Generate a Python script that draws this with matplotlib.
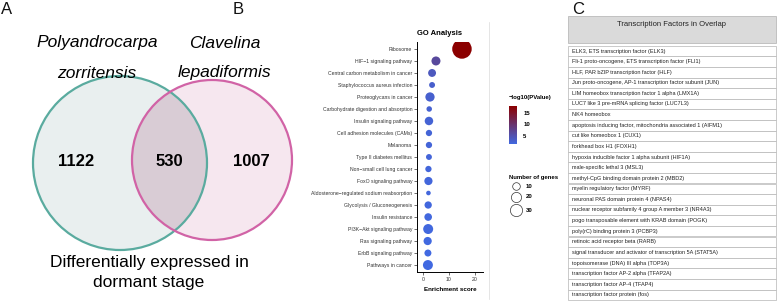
import matplotlib
matplotlib.use('Agg')
import matplotlib.pyplot as plt
import numpy as np
from matplotlib.patches import Circle, Rectangle
from matplotlib.colors import LinearSegmentedColormap, Normalize
from matplotlib.cm import ScalarMappable

plt.rcParams['font.family'] = ['Liberation Sans', 'DejaVu Sans']

# ---------------- data ----------------
species_left = ["Polyandrocarpa", "zorritensis"]
species_right = ["Clavelina", "lepadiformis"]
venn_counts = [1122, 530, 1007]
venn_caption = ["Differentially expressed in", "dormant stage"]

go_terms = ["Ribosome", "HIF\u22121 signaling pathway", "Central carbon metabolism in cancer",
            "Staphylococcus aureus infection", "Proteoglycans in cancer",
            "Carbohydrate digestion and absorption", "Insulin signaling pathway",
            "Cell adhesion molecules (CAMs)", "Melanoma", "Type II diabetes mellitus",
            "Non\u2212small cell lung cancer", "FoxO signaling pathway",
            "Aldosterone\u2212regulated sodium reabsorption", "Glycolysis / Gluconeogenesis",
            "Insulin resistance", "PI3K\u2212Akt signaling pathway", "Ras signaling pathway",
            "ErbB signaling pathway", "Pathways in cancer"]
go_enrichment = [15.0, 5.0, 3.5, 3.5, 2.7, 2.4, 2.3, 2.3, 2.3, 2.3, 2.1, 2.1, 2.1, 2.0, 2.0,
                 2.0, 1.8, 1.9, 1.9]
go_logp = [18.0, 6.5, 4.0, 3.0, 2.8, 2.6, 2.4, 2.2, 2.1, 2.0, 1.9, 1.9, 1.8, 1.7, 1.6, 1.6,
           1.5, 1.4, 1.4]
go_genes = [80, 15, 11, 5, 16, 4, 13, 6, 6, 5, 6, 12, 2, 9, 10, 19, 12, 8, 19]
size_legend = [10, 20, 30]
color_ticks = [5, 10, 15]

tf_title = "Transcription Factors in Overlap"
tf_names = [
    "ELK3, ETS transcription factor (ELK3)",
    "Fli-1 proto-oncogene, ETS transcription factor (FLI1)",
    "HLF, PAR bZIP transcription factor (HLF)",
    "Jun proto-oncogene, AP-1 transcription factor subunit (JUN)",
    "LIM homeobox transcription factor 1 alpha (LMX1A)",
    "LUC7 like 3 pre-mRNA splicing factor (LUC7L3)",
    "NK4 homeobox",
    "apoptosis inducing factor, mitochondria associated 1 (AIFM1)",
    "cut like homeobox 1 (CUX1)",
    "forkhead box H1 (FOXH1)",
    "hypoxia inducible factor 1 alpha subunit (HIF1A)",
    "male-specific lethal 3 (MSL3)",
    "methyl-CpG binding domain protein 2 (MBD2)",
    "myelin regulatory factor (MYRF)",
    "neuronal PAS domain protein 4 (NPAS4)",
    "nuclear receptor subfamily 4 group A member 3 (NR4A3)",
    "pogo transposable element with KRAB domain (POGK)",
    "poly(rC) binding protein 3 (PCBP3)",
    "retinoic acid receptor beta (RARB)",
    "signal transducer and activator of transcription 5A (STAT5A)",
    "topoisomerase (DNA) III alpha (TOP3A)",
    "transcription factor AP-2 alpha (TFAP2A)",
    "transcription factor AP-4 (TFAP4)",
    "transcription factor protein (fos)",
]

W, H = 778, 301
fig = plt.figure(figsize=(W / 100, H / 100), dpi=100)

# overlay axes in pixel coordinates
ax0 = fig.add_axes([0, 0, 1, 1])
ax0.set_xlim(0, W)
ax0.set_ylim(H, 0)
ax0.axis('off')

# panel letters
for lab, x in [("A", 7), ("B", 238), ("C", 578)]:
    ax0.text(x, 10, lab, fontsize=12, ha='center', va='center', color='#111111')

# ---------------- Panel A: Venn ----------------
lc, lr = (120, 163), 87
rc, rr = (212, 160), 80
left_fill = Circle(lc, lr, facecolor='#e9efef', edgecolor='none', zorder=1)
right_fill = Circle(rc, rr, facecolor='#f6e7ef', edgecolor='none', zorder=1)
ax0.add_patch(left_fill)
ax0.add_patch(right_fill)
inter = Circle(rc, rr, facecolor='#d9ccd5', edgecolor='none', zorder=2)
ax0.add_patch(inter)
inter.set_clip_path(left_fill)
ax0.add_patch(Circle(lc, lr, facecolor='none', edgecolor='#5aab9f', lw=1.6, zorder=3))
ax0.add_patch(Circle(rc, rr, facecolor='none', edgecolor='#d163a6', lw=1.6, zorder=3))

for i, t in enumerate(species_left):
    ax0.text(97, 43 + 30 * i, t, fontsize=12.5, style='italic', ha='center', va='center')
for i, t in enumerate(species_right):
    ax0.text(225, 43 + 30 * i, t, fontsize=12.5, style='italic', ha='center', va='center')
for x, n in zip([76, 169, 251], venn_counts):
    ax0.text(x, 161, str(n), fontsize=12, fontweight='bold', ha='center', va='center', zorder=4)
for i, t in enumerate(venn_caption):
    ax0.text(149, 262 + 21 * i, t, fontsize=12.5, ha='center', va='center')

# ---------------- Panel B: GO dot plot ----------------
def px_axes(x0, y0, x1, y1):
    return fig.add_axes([x0 / W, 1 - y1 / H, (x1 - x0) / W, (y1 - y0) / H])

ax = px_axes(417, 42, 483, 272)
cmap = LinearSegmentedColormap.from_list('rb', ['#4169e1', '#8b0000'])
norm = Normalize(vmin=min(go_logp), vmax=max(go_logp))

def gene_size(n):
    return 0.5184 * (12 + 4.6 * np.asarray(n, dtype=float))

ypos = np.arange(len(go_terms))
ax.scatter(go_enrichment, ypos, s=gene_size(go_genes), c=go_logp, cmap=cmap, norm=norm,
           edgecolors='none', zorder=3)
ax.set_ylim(len(go_terms) - 1 + 0.58, -0.58)
ax.set_xlim(-2.3, 23.1)
ax.set_yticks(ypos)
ax.set_yticklabels(go_terms, fontsize=3.7, color='#333333')
ax.set_xticks([0, 10, 20])
ax.set_xticklabels(['0', '10', '20'], fontsize=3.7, color='#333333')
ax.tick_params(axis='both', length=2, width=0.5, pad=1.5, color='#333333')
for s in ['top', 'right']:
    ax.spines[s].set_visible(False)
for s in ['left', 'bottom']:
    ax.spines[s].set_linewidth(0.7)
ax.set_facecolor('none')
ax.set_xlabel('Enrichment score', fontsize=4.5, fontweight='bold', labelpad=3.5)
ax.set_title('GO Analysis', fontsize=5.5, fontweight='bold', loc='left', pad=5)

# thin separator line right of the dot plot
ax0.plot([489, 489], [22, 299], color='#dadada', lw=0.5, zorder=1)

# colour legend
ax0.text(509, 97, '\u2212log10(PValue)', fontsize=4.3, fontweight='bold', ha='left', va='center')
vmin, vmax = min(go_logp), max(go_logp)
def vy(v):
    return 113 + (15 - v) * 2.3
cax = px_axes(509, vy(vmax), 517, vy(vmin))
sm = ScalarMappable(norm=norm, cmap=cmap)
cb = fig.colorbar(sm, cax=cax, ticks=color_ticks)
cb.outline.set_visible(False)
cax.tick_params(length=1.5, width=0.5, color='white', labelsize=4.3, pad=3)
for lbl in cax.get_yticklabels():
    lbl.set_fontweight('bold')

# size legend
ax0.text(509, 177, 'Number of genes', fontsize=4.3, fontweight='bold', ha='left', va='center')
for i, n in enumerate(size_legend):
    yy = [186, 197, 210][i]
    ax0.scatter([516], [yy], s=gene_size(n), facecolors='white', edgecolors='#333333',
                linewidths=0.5, zorder=5)
    ax0.text(526, yy, str(n), fontsize=4.3, fontweight='bold', ha='left', va='center')

# ---------------- Panel C: table ----------------
tx0, tx1 = 568, 776
ax0.add_patch(Rectangle((tx0, 16), tx1 - tx0, 27, facecolor='#dadada', edgecolor='#b0b0b0',
                        lw=0.5, zorder=2))
ax0.text((tx0 + tx1) / 2, 24, tf_title, fontsize=5.5, ha='center', va='center', color='#222222', zorder=3)
rh = 10.6
top0 = 45.7
for i, name in enumerate(tf_names):
    y = top0 + i * rh
    ax0.add_patch(Rectangle((tx0, y), tx1 - tx0, rh, facecolor='white', edgecolor='#b5b5b5',
                            lw=0.5, zorder=2))
    ax0.text(tx0 + 4, y + rh / 2, name, fontsize=4, ha='left', va='center', color='#222222', zorder=3)

fig.savefig('out.png', dpi=100)
